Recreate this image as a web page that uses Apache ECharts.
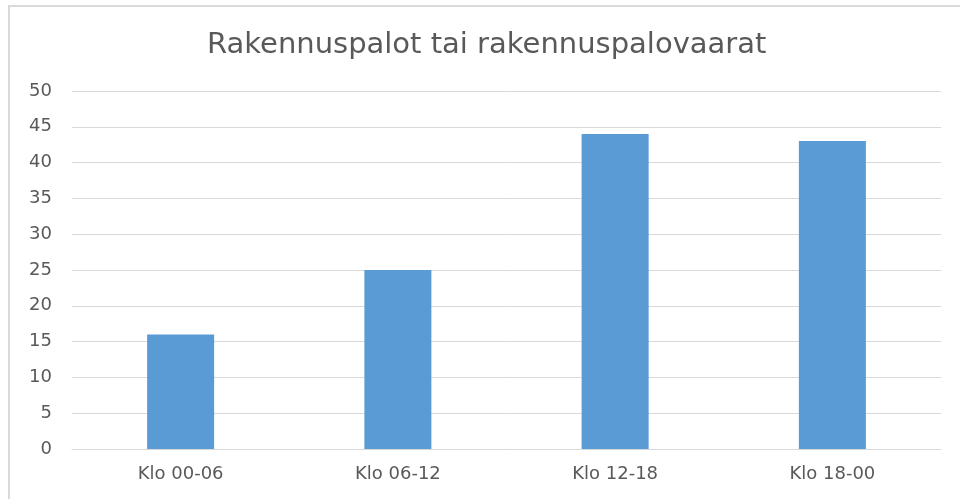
<!DOCTYPE html>
<html>
<head>
<meta charset="utf-8">
<script src="https://cdn.jsdelivr.net/npm/echarts@6/dist/echarts.min.js"></script>
<style>
  html, body { margin: 0; padding: 0; background: #fff; }
  #chart { width: 960px; height: 499px; }
</style>
</head>
<body>
<div id="chart"></div>
<script>
  // data
  var titleText = 'Rakennuspalot tai rakennuspalovaarat'
  var categories = ['Klo 00-06', 'Klo 06-12', 'Klo 12-18', 'Klo 18-00']
  var values = [16, 25, 44, 43]

  var myChart = echarts.init(document.getElementById('chart'))

  var option = {
    backgroundColor: '#fff',
    animation: false,
    title: {
      text: titleText,
      left: 202,
      top: 26,
      textStyle: {
        fontFamily: 'DejaVu Sans',
        fontWeight: 'normal',
        fontSize: 29,
        color: '#595959',
      },
    },
    // frame: top and left edges only
    graphic: [
      { type: 'line', shape: { x1: 8, y1: 6, x2: 960, y2: 6 }, style: { stroke: '#d9d9d9', lineWidth: 2 } },
      { type: 'line', shape: { x1: 9, y1: 5, x2: 9, y2: 499 }, style: { stroke: '#d9d9d9', lineWidth: 2 } },
    ],
    grid: {
      left: 72,
      right: 19,
      top: 91,
      bottom: 50,
    },
    xAxis: {
      type: 'category',
      data: categories,
      axisLine: { lineStyle: { color: '#d9d9d9' } },
      axisTick: { show: false },
      axisLabel: {
        color: '#595959',
        fontFamily: 'DejaVu Sans',
        fontSize: 18,
        margin: 16,
      },
    },
    yAxis: {
      type: 'value',
      min: 0,
      max: 50,
      interval: 5,
      axisLine: { show: false },
      axisTick: { show: false },
      splitLine: { lineStyle: { color: '#d9d9d9' } },
      axisLabel: {
        color: '#595959',
        fontFamily: 'DejaVu Sans',
        fontSize: 18,
        margin: 20,
      },
    },
    series: [
      {
        type: 'bar',
        data: values,
        barWidth: 67,
        itemStyle: { color: '#5b9bd5' },
      },
    ],
  }

  myChart.setOption(option)
</script>
</body>
</html>
